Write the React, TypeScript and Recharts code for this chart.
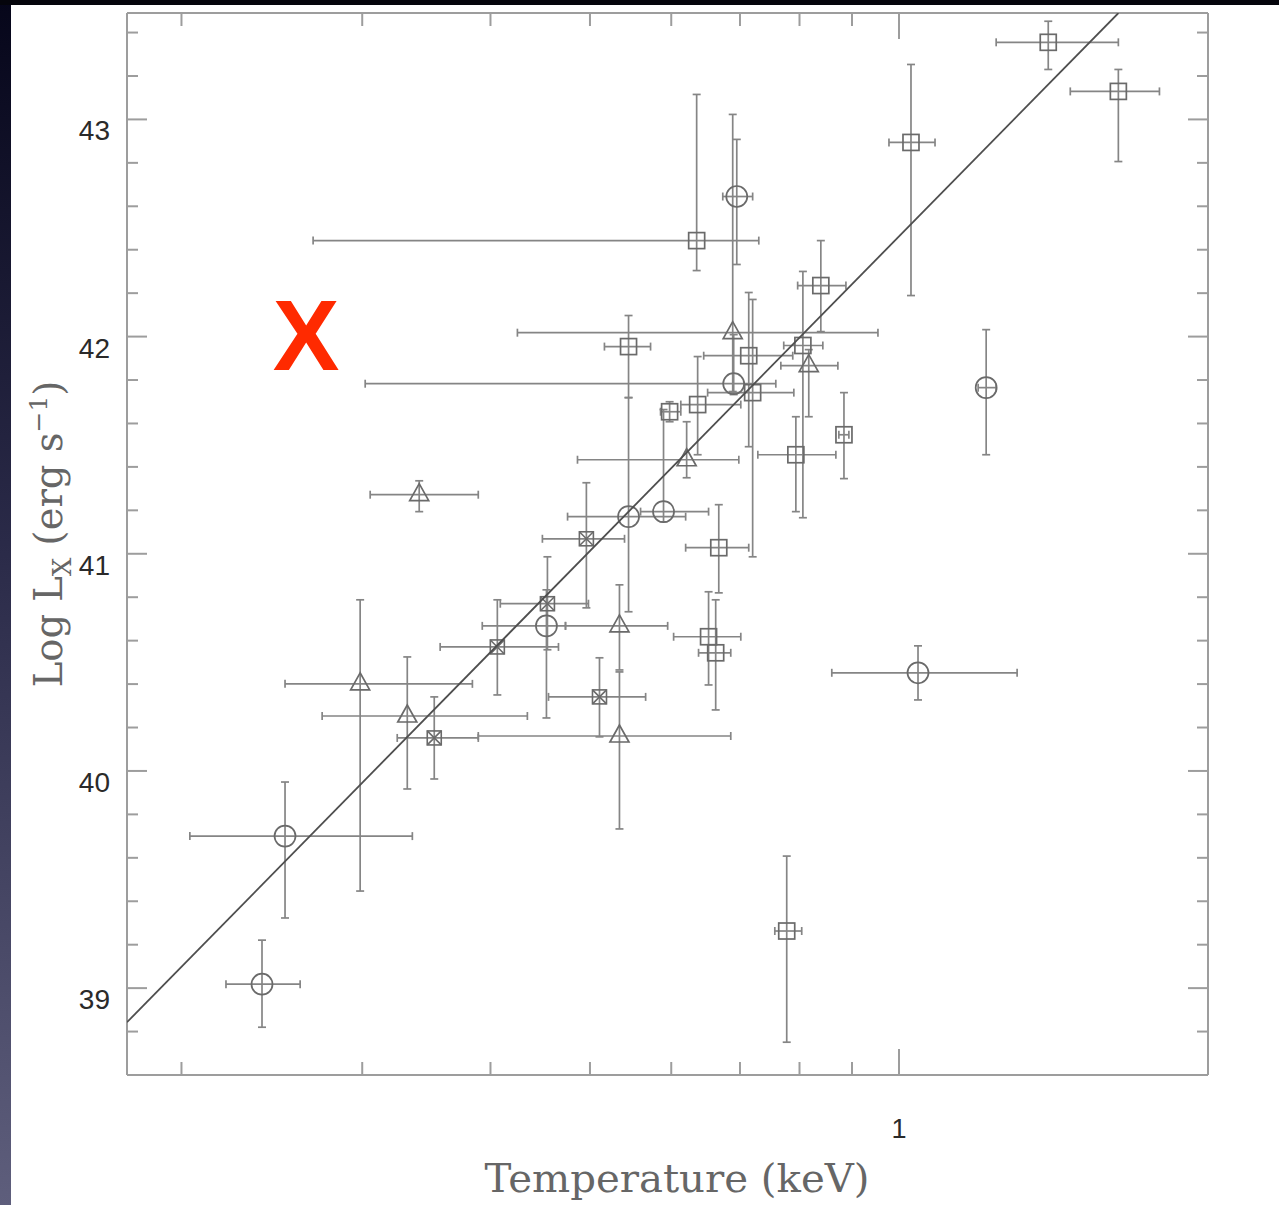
import React from 'react';
import { ScatterChart, Scatter, XAxis, YAxis, ErrorBar } from 'recharts';

// Each row: [T, T low, T high, log Lx, log Lx low, log Lx high]
type Row = [number, number, number, number, number, number];

const circles: Row[] = [
  [0.2523, 0.2038, 0.3357, 39.700, 39.323, 39.949],
  [0.2396, 0.2210, 0.2610, 39.018, 38.820, 39.221],
  [0.4535, 0.3927, 0.4733, 40.668, 40.244, 40.834],
  [0.5452, 0.4755, 0.6197, 41.171, 40.733, 41.719],
  [0.5897, 0.5601, 0.6524, 41.194, 41.147, 41.664],
  [0.6950, 0.6735, 0.7202, 42.645, 42.332, 42.908],
  [0.6902, 0.3020, 0.7586, 41.783, 41.733, 42.009],
  [1.0436, 0.8601, 1.3034, 40.452, 40.327, 40.576],
  [1.2160, 1.1943, 1.2436, 41.765, 41.456, 42.032],
];

const squares: Row[] = [
  [1.3977, 1.2436, 1.6357, 43.355, 43.230, 43.452],
  [1.6357, 1.4685, 1.7936, 43.129, 42.806, 43.230],
  [1.0273, 0.9778, 1.0842, 42.894, 42.189, 43.253],
  [0.6352, 0.2687, 0.7302, 42.442, 42.304, 43.115],
  [0.5452, 0.5165, 0.5728, 41.954, 41.719, 42.097],
  [0.8392, 0.7967, 0.8878, 42.235, 42.023, 42.442],
  [0.8061, 0.7722, 0.8430, 41.959, 41.166, 42.300],
  [0.7139, 0.6453, 0.7880, 41.912, 41.493, 42.203],
  [0.7202, 0.6510, 0.7899, 41.742, 40.986, 42.171],
  [0.6366, 0.6130, 0.7013, 41.687, 41.456, 41.908],
  [0.5978, 0.5858, 0.6130, 41.654, 41.608, 41.700],
  [0.6675, 0.6197, 0.7139, 41.028, 40.820, 41.226],
  [0.6524, 0.6032, 0.7013, 40.618, 40.396, 40.825],
  [0.6629, 0.6379, 0.6857, 40.544, 40.281, 40.788],
  [0.7935, 0.7286, 0.8680, 41.456, 41.194, 41.631],
  [0.8839, 0.8738, 0.8937, 41.548, 41.346, 41.742],
  [0.7774, 0.7569, 0.8040, 39.263, 38.751, 39.608],
];

const triangles: Row[] = [
  [0.2986, 0.2523, 0.3841, 40.401, 39.447, 40.788],
  [0.3319, 0.2742, 0.4345, 40.253, 39.917, 40.525],
  [0.3409, 0.3054, 0.3892, 41.272, 41.194, 41.336],
  [0.5342, 0.4733, 0.5952, 40.668, 40.465, 40.857],
  [0.5342, 0.3892, 0.6857, 40.161, 39.733, 40.456],
  [0.6211, 0.4862, 0.6982, 41.433, 41.350, 41.608],
  [0.6887, 0.4249, 0.9539, 42.018, 41.747, 43.023],
  [0.8168, 0.7672, 0.8719, 41.866, 41.631, 41.940],
];

const stars: Row[] = [
  [0.3526, 0.3245, 0.3892, 40.152, 39.963, 40.341],
  [0.4062, 0.3573, 0.4659, 40.571, 40.350, 40.788],
  [0.4545, 0.4089, 0.4983, 40.770, 40.558, 40.986],
  [0.4960, 0.4494, 0.5403, 41.069, 40.751, 41.327],
  [0.5108, 0.4556, 0.5665, 40.341, 40.157, 40.521],
];

// Best-fit relation, drawn between its two end points inside the frame
const fitLine = [
  { x: 0.177, y: 38.843 },
  { x: 1.636, y: 43.49 },
];

const xDomain: [number, number] = [0.177, 2.0];
const yDomain: [number, number] = [38.6, 43.49];
const xTicks = [0.2, 0.3, 0.4, 0.5, 0.6, 0.7, 0.8, 0.9, 1];
const xLabelled = [1];
const yTicks = [
  38.8, 39, 39.2, 39.4, 39.6, 39.8, 40, 40.2, 40.4, 40.6, 40.8, 41,
  41.2, 41.4, 41.6, 41.8, 42, 42.2, 42.4, 42.6, 42.8, 43, 43.2, 43.4,
];
const yLabelled = [39, 40, 41, 42, 43];

const toPoints = (rows: Row[]) =>
  rows.map(([x, xlo, xhi, y, ylo, yhi]) => ({
    x,
    y,
    ex: [x - xlo, xhi - x],
    ey: [y - ylo, yhi - y],
  }));

const FRAME = '#9d9d9d';
const BAR = '#858585';
const MARK = '#6a6a6a';
const SANS = '"Liberation Sans", Arial, Helvetica, sans-serif';
const SERIF = '"DejaVu Serif", "Liberation Serif", serif';

const inList = (v: number, list: number[]) => list.some((m) => Math.abs(m - v) < 1e-6);

function LeftTick({ x, y, payload }: any) {
  const major = inList(payload.value, yLabelled);
  return (
    <g>
      <line x1={x} y1={y} x2={x + (major ? 20 : 11)} y2={y} stroke={FRAME} strokeWidth={2} />
      {major && (
        <text x={x - 17} y={y + 21} textAnchor="end" fontSize={28} fill="#2a2a2a" fontFamily={SANS}>
          {payload.value}
        </text>
      )}
    </g>
  );
}

function RightTick({ x, y, payload }: any) {
  const major = inList(payload.value, yLabelled);
  return <line x1={x} y1={y} x2={x - (major ? 20 : 11)} y2={y} stroke={FRAME} strokeWidth={2} />;
}

function BottomTick({ x, y, payload }: any) {
  const major = inList(payload.value, xLabelled);
  return (
    <g>
      <line x1={x} y1={y} x2={x} y2={y - (major ? 26 : 13)} stroke={FRAME} strokeWidth={2} />
      {major && (
        <text x={x} y={y + 63} textAnchor="middle" fontSize={27} fill="#2a2a2a" fontFamily={SANS}>
          {payload.value}
        </text>
      )}
    </g>
  );
}

function TopTick({ x, y, payload }: any) {
  const major = inList(payload.value, xLabelled);
  return <line x1={x} y1={y} x2={x} y2={y + (major ? 26 : 13)} stroke={FRAME} strokeWidth={2} />;
}

const CircleMark = ({ cx, cy }: any) => (
  <circle cx={cx} cy={cy} r={10.5} fill="none" stroke={MARK} strokeWidth={1.7} />
);

const SquareMark = ({ cx, cy }: any) => (
  <rect x={cx - 8} y={cy - 8} width={16} height={16} fill="none" stroke={MARK} strokeWidth={1.7} />
);

const TriangleMark = ({ cx, cy }: any) => (
  <polygon
    points={`${cx},${cy - 11} ${cx - 9.5},${cy + 6} ${cx + 9.5},${cy + 6}`}
    fill="none"
    stroke={MARK}
    strokeWidth={1.7}
  />
);

const StarMark = ({ cx, cy }: any) => (
  <g fill="none" stroke={MARK} strokeWidth={1.6}>
    <rect x={cx - 7} y={cy - 7} width={14} height={14} />
    <line x1={cx - 7} y1={cy - 7} x2={cx + 7} y2={cy + 7} />
    <line x1={cx + 7} y1={cy - 7} x2={cx - 7} y2={cy + 7} />
  </g>
);

const NoMark = () => <g />;

const groups = [
  { name: 'circles', rows: circles, shape: CircleMark },
  { name: 'squares', rows: squares, shape: SquareMark },
  { name: 'triangles', rows: triangles, shape: TriangleMark },
  { name: 'stars', rows: stars, shape: StarMark },
];

export default function App() {
  return (
    <div
      style={{
        position: 'absolute',
        left: 0,
        top: 0,
        width: 1279,
        height: 1205,
        background: '#ffffff',
        overflow: 'hidden',
      }}
    >
      <div
        style={{
          position: 'absolute',
          left: 0,
          top: 0,
          width: 11,
          height: 1205,
          background: 'linear-gradient(to bottom, #06061a 0%, #2a2a48 45%, #5e5e7c 100%)',
        }}
      />
      <div style={{ position: 'absolute', left: 0, top: 0, width: 1279, height: 5, background: '#05050c' }} />
      <div style={{ position: 'absolute', left: 0, top: 0 }}>
        <ScatterChart width={1279} height={1205} margin={{ top: 0, right: 0, bottom: 0, left: 0 }}>
          <XAxis
            xAxisId={0}
            dataKey="x"
            type="number"
            scale="log"
            domain={xDomain}
            allowDataOverflow
            ticks={xTicks}
            interval={0}
            height={130}
            orientation="bottom"
            tickSize={0}
            tickMargin={0}
            tickLine={false}
            axisLine={{ stroke: FRAME, strokeWidth: 2 }}
            tick={<BottomTick />}
          />
          <XAxis
            xAxisId="top"
            dataKey="x"
            type="number"
            scale="log"
            domain={xDomain}
            allowDataOverflow
            ticks={xTicks}
            interval={0}
            height={13}
            orientation="top"
            tickSize={0}
            tickMargin={0}
            tickLine={false}
            axisLine={{ stroke: FRAME, strokeWidth: 2 }}
            tick={<TopTick />}
          />
          <YAxis
            yAxisId={0}
            dataKey="y"
            type="number"
            domain={yDomain}
            allowDataOverflow
            ticks={yTicks}
            interval={0}
            width={127}
            orientation="left"
            tickSize={0}
            tickMargin={0}
            tickLine={false}
            axisLine={{ stroke: FRAME, strokeWidth: 2 }}
            tick={<LeftTick />}
          />
          <YAxis
            yAxisId="right"
            dataKey="y"
            type="number"
            domain={yDomain}
            allowDataOverflow
            ticks={yTicks}
            interval={0}
            width={71}
            orientation="right"
            tickSize={0}
            tickMargin={0}
            tickLine={false}
            axisLine={{ stroke: FRAME, strokeWidth: 2 }}
            tick={<RightTick />}
          />
          {groups.map((g) => (
            <Scatter
              key={g.name}
              name={g.name}
              data={toPoints(g.rows)}
              shape={g.shape}
              isAnimationActive={false}
            >
              <ErrorBar dataKey="ex" direction="x" width={4} stroke={BAR} strokeWidth={1.7} isAnimationActive={false} />
              <ErrorBar dataKey="ey" direction="y" width={4} stroke={BAR} strokeWidth={1.7} isAnimationActive={false} />
            </Scatter>
          ))}
          <Scatter
            name="fit"
            data={fitLine}
            line={{ stroke: '#4e4e4e', strokeWidth: 1.8 }}
            shape={NoMark}
            isAnimationActive={false}
          />
        </ScatterChart>
      </div>
      <svg
        width={1279}
        height={1205}
        style={{ position: 'absolute', left: 0, top: 0, pointerEvents: 'none' }}
      >
        <text
          x={306}
          y={370}
          textAnchor="middle"
          fontSize={100}
          fontWeight="bold"
          fill="#ff2a00"
          fontFamily={SANS}
        >
          X
        </text>
        <text
          x={677}
          y={1192}
          textAnchor="middle"
          fontSize={40}
          fill="#666666"
          fontFamily={SERIF}
          textLength={385}
          lengthAdjust="spacingAndGlyphs"
        >
          Temperature (keV)
        </text>
        <text
          transform="translate(62,534) rotate(-90)"
          textAnchor="middle"
          fontSize={38.5}
          fill="#666666"
          fontFamily={SERIF}
        >
          Log L
          <tspan dy={9} fontSize={26}>X</tspan>
          <tspan dy={-9}> (erg s</tspan>
          <tspan dy={-15} fontSize={25}>−1</tspan>
          <tspan dy={15}>)</tspan>
        </text>
      </svg>
    </div>
  );
}
